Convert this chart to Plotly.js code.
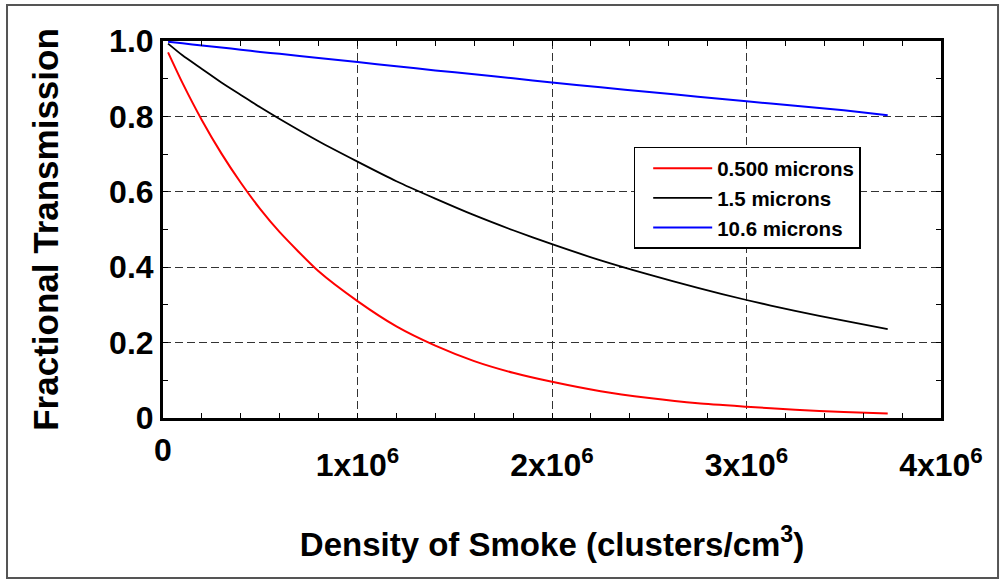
<!DOCTYPE html>
<html>
<head>
<meta charset="utf-8">
<script src="https://cdn.plot.ly/plotly-3.0.1.min.js"></script>
<style>
  html, body { margin: 0; padding: 0; background: #fff; }
  #chart { width: 1000px; height: 580px; }
</style>
</head>
<body>
<div id="chart"></div>
<script>
// Density of smoke (clusters/cm^3)
const density = [0.026e6, 0.1e6, 0.2e6, 0.3e6, 0.4e6, 0.5e6, 0.6e6, 0.8e6, 1.0e6, 1.2e6, 1.4e6,
                 1.6e6, 1.8e6, 2.0e6, 2.25e6, 2.5e6, 2.75e6, 3.0e6, 3.25e6, 3.5e6, 3.726e6];
// Fractional transmission per wavelength
const trans050 = [0.970, 0.889, 0.790, 0.702, 0.624, 0.554, 0.493, 0.389, 0.310, 0.243, 0.192,
                  0.151, 0.120, 0.096, 0.071, 0.053, 0.039, 0.030, 0.022, 0.016, 0.012];
const trans15  = [0.993, 0.962, 0.926, 0.890, 0.857, 0.824, 0.793, 0.734, 0.680, 0.628, 0.582,
                  0.538, 0.498, 0.461, 0.418, 0.380, 0.345, 0.313, 0.284, 0.258, 0.236];
const trans106 = [0.998, 0.994, 0.988, 0.983, 0.977, 0.971, 0.966, 0.955, 0.944, 0.933, 0.922,
                  0.912, 0.901, 0.890, 0.877, 0.865, 0.852, 0.840, 0.828, 0.816, 0.803];
const seriesNames = ['0.500 microns', '1.5 microns', '10.6 microns'];

const xTickVals = [0, 1e6, 2e6, 3e6, 4e6];
const xTickText = ['0', '1x10<sup>6</sup>', '2x10<sup>6</sup>', '3x10<sup>6</sup>', '4x10<sup>6</sup>'];
const yTickVals = [0, 0.2, 0.4, 0.6, 0.8, 1.0];
const yTickText = ['0', '0.2', '0.4', '0.6', '0.8', '1.0'];

const FONT = 'Liberation Sans, Arial, Helvetica, sans-serif';
const TICKFONT = {family: FONT, size: 32, color: '#000', weight: 'bold'};

const traces = [
  {x: density, y: trans050, name: seriesNames[0], mode: 'lines', line: {color: '#ff0000', width: 2, shape: 'spline', smoothing: 0.6}},
  {x: density, y: trans15,  name: seriesNames[1], mode: 'lines', line: {color: '#000000', width: 1.8, shape: 'spline', smoothing: 0.6}},
  {x: density, y: trans106, name: seriesNames[2], mode: 'lines', line: {color: '#0000ff', width: 2, shape: 'spline', smoothing: 0.6}}
];

const axisCommon = {
  showline: true, linecolor: '#000', linewidth: 3, mirror: 'allticks',
  ticks: 'inside', ticklen: 5, tickwidth: 1, tickcolor: '#000',
  showgrid: true, gridcolor: '#333', gridwidth: 1, griddash: '8px,4px',
  zeroline: false, fixedrange: true,
  tickfont: TICKFONT
};

// The "0" of the x axis sits higher than the other (superscripted) labels in the reference,
// so the axis draws the other labels and "0" is placed as an annotation at x = 0.
const xAxisText = xTickText.map((t, i) => (xTickVals[i] === 0 ? '' : t));
const zeroAnn = xTickVals.filter(v => v === 0).map(v => ({
  x: v, xref: 'x', y: -0.0849, yref: 'paper', yanchor: 'middle', xanchor: 'center',
  text: xTickText[xTickVals.indexOf(v)], showarrow: false, font: TICKFONT
}));

const layout = {
  width: 1000, height: 580,
  margin: {l: 163, r: 59, t: 41, b: 162},
  paper_bgcolor: '#fff', plot_bgcolor: '#fff',
  font: {family: FONT, color: '#000'},
  showlegend: true,
  legend: {
    x: 0.605, y: 0.719, xanchor: 'left', yanchor: 'top',
    bgcolor: '#fff', bordercolor: '#000', borderwidth: 1.5,
    font: {family: FONT, size: 20.5, color: '#000', weight: 'bold'},
    itemwidth: 59, indentation: 13
  },
  xaxis: Object.assign({}, axisCommon, {
    range: [0, 4e6], tickmode: 'array', tickvals: xTickVals, ticktext: xAxisText,
    ticklabelstandoff: 17,
    minor: {dtick: 0.2e6, ticks: 'inside', ticklen: 5, tickcolor: '#000', showgrid: false},
    title: {text: 'Density of Smoke (clusters/cm<sup>3</sup>)', standoff: 51,
            font: {family: FONT, size: 33, color: '#000', weight: 'bold'}}
  }),
  yaxis: Object.assign({}, axisCommon, {
    range: [0, 1.0], tickmode: 'array', tickvals: yTickVals, ticktext: yTickText,
    minor: {dtick: 0.1, ticks: 'inside', ticklen: 5, tickcolor: '#000', showgrid: false},
    title: {text: 'Fractional Transmission', standoff: 40,
            font: {family: FONT, size: 35, color: '#000', weight: 'bold'}}
  }),
  annotations: zeroAnn,
  shapes: [{
    type: 'rect', xref: 'paper', yref: 'paper',
    x0: -0.2005, x1: 1.0733, y0: -0.4244, y1: 1.0955,
    line: {color: '#555', width: 2}, fillcolor: 'rgba(0,0,0,0)', layer: 'below'
  }]
};

Plotly.newPlot('chart', traces, layout, {displayModeBar: false, staticPlot: true});
</script>
</body>
</html>
